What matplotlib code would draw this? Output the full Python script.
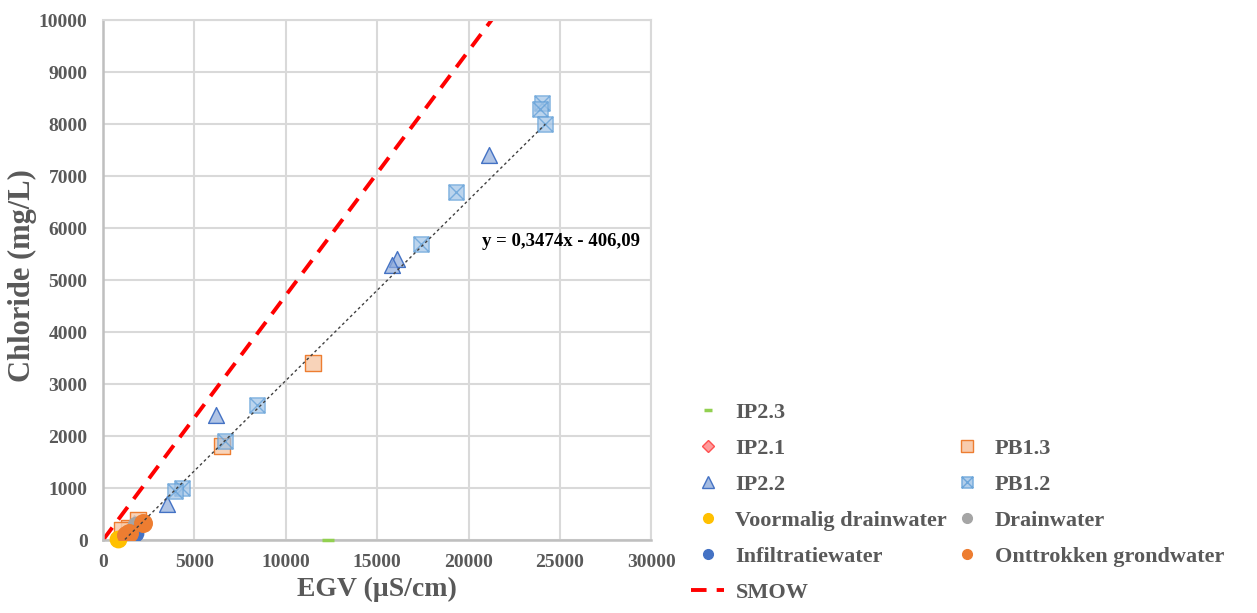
import numpy as np
import matplotlib
matplotlib.use('Agg')
from matplotlib import pyplot as plt
from matplotlib.lines import Line2D
from matplotlib.path import Path

# Data (EGV in uS/cm, chloride in mg/L)
ip23_x = [12300]
ip23_y = [0]
ip21_x = [1400]
ip21_y = [120]
ip22_x = [21100, 16100, 15800, 6200, 3500, 1700, 1400]
ip22_y = [7400, 5400, 5300, 2400, 700, 330, 60]
pb13_x = [11500, 6500, 1900, 1400, 1050]
pb13_y = [3400, 1800, 380, 230, 190]
pb12_x = [24000, 23900, 24200, 19300, 17400, 8400, 6700, 4300, 3950]
pb12_y = [8400, 8300, 8000, 6700, 5700, 2600, 1900, 1000, 950]
voormalig_x = [800]
voormalig_y = [20]
drain_x = [1800]
drain_y = [280]
infil_x = [1750, 1500]
infil_y = [130, 60]
onttr_x = [2200, 1400, 1250]
onttr_y = [330, 130, 90]

# trendline coefficients and range, SMOW slope
trend_a, trend_b = 0.3474, -406.09
trend_range = [1200, 24200]
smow_slope = 10000 / 21250

grey = '#595959'
serif = 'Liberation Serif'

# square with a cross, like the Excel marker
boxx = Path([(-1, -1), (1, -1), (1, 1), (-1, 1), (-1, -1), (-1, -1), (1, 1), (-1, 1), (1, -1)],
            [Path.MOVETO, Path.LINETO, Path.LINETO, Path.LINETO, Path.CLOSEPOLY,
             Path.MOVETO, Path.LINETO, Path.MOVETO, Path.LINETO])

fig = plt.figure(figsize=(12.57, 6.13), dpi=100)
ax = fig.add_axes([0.0819, 0.119, 0.4363, 0.848])

ax.set_xlim(0, 30000)
ax.set_ylim(0, 10000)
ax.set_xticks(np.arange(0, 30001, 5000))
ax.set_yticks(np.arange(0, 10001, 1000))
ax.grid(True, color='#d9d9d9', linewidth=1.5)
ax.set_axisbelow(True)
for s in ['top', 'right']:
    ax.spines[s].set_color('#d9d9d9')
    ax.spines[s].set_linewidth(1.5)
for s in ['left', 'bottom']:
    ax.spines[s].set_color('#bfbfbf')
    ax.spines[s].set_linewidth(1.8)
ax.tick_params(axis='y', length=0, pad=11, labelcolor=grey)
ax.tick_params(axis='x', length=0, pad=10, labelcolor=grey)
for lab in ax.get_xticklabels() + ax.get_yticklabels():
    lab.set_fontfamily(serif)
    lab.set_fontweight('bold')
    lab.set_fontsize(14)

ax.set_xlabel('EGV (µS/cm)', fontsize=20, fontweight='bold', family=serif, color=grey, labelpad=4)
ax.set_ylabel('Chloride (mg/L)', fontsize=22, fontweight='bold', family=serif, color=grey)
ax.yaxis.set_label_coords(-0.12, 0.508)

# SMOW line
sx = np.array([0, 30000])
ax.plot(sx, smow_slope * sx, color='#ff0000', linewidth=2.8, linestyle=(0, (4, 2.6)), zorder=2)

# trendline
tx = np.array(trend_range)
ax.plot(tx, trend_a * tx + trend_b, color='#404040', linewidth=1.0, linestyle=(0, (2, 2)), zorder=6)
ax.text(20720, 5650, 'y = 0,3474x - 406,09', fontsize=13.5, fontweight='bold', family=serif, color='black')

# series
ax.scatter(ip23_x, ip23_y, marker='_', s=80, color='#92d050', linewidths=2.5, clip_on=False, zorder=4)
ax.scatter(ip21_x, ip21_y, marker='D', s=55, facecolor='#ff9b9b', edgecolor='#ff5050', zorder=3)
ax.scatter(ip22_x, ip22_y, marker='^', s=130, facecolor=(0.56, 0.67, 0.86, 0.7), edgecolor='#4472c4',
           linewidths=1.0, zorder=4)
ax.scatter(pb13_x, pb13_y, marker='s', s=130, facecolor=(0.97, 0.80, 0.68, 0.85), edgecolor='#ed7d31',
           linewidths=1.0, zorder=4)
ax.scatter(pb12_x, pb12_y, marker=boxx, s=120, facecolor=(0.62, 0.76, 0.90, 0.7), edgecolor=(0.36, 0.61, 0.84, 0.7),
           linewidths=1.0, zorder=4)
ax.scatter(voormalig_x, voormalig_y, marker='o', s=140, color='#ffc000', clip_on=False, zorder=4)
ax.scatter(drain_x, drain_y, marker='o', s=140, color='#a5a5a5', zorder=4)
ax.scatter(infil_x, infil_y, marker='o', s=140, color='#4472c4', zorder=4)
ax.scatter(onttr_x, onttr_y, marker='o', s=160, color='#ed7d31', zorder=5)

# legend (two columns, empty slot at top of right column)
def mk(marker, fc, ec, ms=8, mew=1.0):
    return Line2D([], [], linestyle='none', marker=marker, markersize=ms, markerfacecolor=fc,
                  markeredgecolor=ec, markeredgewidth=mew)

handles = [
    mk('_', '#92d050', '#92d050', ms=6, mew=2.5),
    mk('D', '#ff9b9b', '#ff5050', ms=6.5),
    mk('^', (0.56, 0.67, 0.86, 0.8), '#4472c4', ms=8),
    mk('o', '#ffc000', '#ffc000', ms=7),
    mk('o', '#4472c4', '#4472c4', ms=7),
    Line2D([], [], color='#ff0000', linewidth=2.8, linestyle=(0, (4, 2.6))),
    Line2D([], [], linestyle='none'),
    mk('s', '#f8cbad', '#ed7d31', ms=8.5),
    mk(boxx, (0.62, 0.76, 0.90, 0.8), (0.36, 0.61, 0.84, 0.8), ms=8),
    mk('o', '#a5a5a5', '#a5a5a5', ms=7),
    mk('o', '#ed7d31', '#ed7d31', ms=7),
]
labels = ['IP2.3', 'IP2.1', 'IP2.2', 'Voormalig drainwater', 'Infiltratiewater', 'SMOW',
          ' ', 'PB1.3', 'PB1.2', 'Drainwater', 'Onttrokken grondwater']
leg = fig.legend(handles, labels, ncol=2, loc='upper left', bbox_to_anchor=(0.5497, 0.344),
                 frameon=False, borderpad=0, borderaxespad=0, handlelength=1.5, handletextpad=0.5,
                 columnspacing=0.13, labelspacing=0.70,
                 prop={'family': serif, 'weight': 'bold', 'size': 16})
for t in leg.get_texts():
    t.set_color(grey)

plt.savefig('out.png', dpi=100)
